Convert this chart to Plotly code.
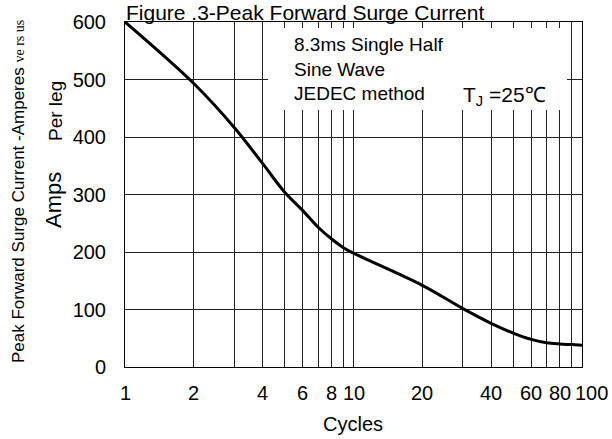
import plotly.graph_objects as go
import math

# Data
cycles = [1, 2, 3, 4, 5, 6, 7, 8, 9, 10, 20, 30, 40, 50, 60, 70, 80, 90, 100]
amps = [600, 493, 417, 354, 304, 272, 243, 223, 208, 198, 142, 102, 76, 59, 48, 42, 40, 39, 38]

x_grid = [1, 2, 3, 4, 5, 6, 7, 8, 9, 10, 20, 30, 40, 50, 60, 70, 80, 90, 100]
x_labels = ["1", "2", "", "4", "", "6", "", "8", "", "10", "20", "", "40", "", "60", "", "80", "", "100"]
y_ticks = [0, 100, 200, 300, 400, 500, 600]

title_text = "Figure .3-Peak Forward Surge Current"
y_title_main = "Peak Forward Surge Current -Amperes"
y_title_serif = "ve rs us"
note_lines = ["8.3ms Single Half", "Sine Wave", "JEDEC method"]

W, H = 612, 439
L, R, T, B = 125, 30, 22, 72
PW, PH = W - L - R, H - T - B

def px_x(p):
    return (p - L) / PW

def px_y(p):
    return (H - B - p) / PH

SANS = "Liberation Sans, Arial, sans-serif"

fig = go.Figure()
fig.add_trace(go.Scatter(
    x=cycles, y=amps, mode="lines",
    line=dict(color="black", width=3, shape="spline", smoothing=1.0),
    showlegend=False, hoverinfo="skip",
))

fig.update_layout(
    width=W, height=H,
    margin=dict(l=L, r=R, t=T, b=B),
    paper_bgcolor="white", plot_bgcolor="white",
    font=dict(family=SANS, color="black", size=20),
    xaxis=dict(
        type="log", range=[0, 2],
        tickmode="array", tickvals=x_grid, showticklabels=False,
        showgrid=True, gridcolor="#222", gridwidth=1,
        showline=True, linecolor="black", linewidth=1, mirror=True,
        ticks="", zeroline=False,
    ),
    yaxis=dict(
        range=[0, 600], tickmode="array", tickvals=y_ticks,
        showgrid=True, gridcolor="#222", gridwidth=1,
        showline=True, linecolor="black", linewidth=1, mirror=True,
        ticks="", ticklabelstandoff=14,
        tickfont=dict(size=20, family=SANS),
        zeroline=False,
    ),
)

# white box behind the note text
fig.add_shape(type="rect", xref="paper", yref="paper",
              x0=px_x(268), x1=px_x(567), y0=px_y(110), y1=px_y(28),
              fillcolor="white", line=dict(width=0), layer="above")

# x tick labels placed on the log axis
for v, lab in zip(x_grid, x_labels):
    if not lab:
        continue
    fig.add_annotation(xref="x", yref="paper", x=math.log10(v), y=px_y(393),
                       text=lab, showarrow=False, xanchor="center", yanchor="middle",
                       xshift=(9 if v == x_grid[-1] else 0),
                       font=dict(size=20, family=SANS))

annotations = [
    dict(text=title_text, x=px_x(305), y=px_y(12), xanchor="center", yanchor="middle",
         font=dict(size=21, family=SANS)),
    dict(text="<br>".join(note_lines), x=px_x(292), y=px_y(69), xanchor="left", yanchor="middle",
         align="left", font=dict(size=19, family=SANS)),
    dict(text="T<sub>J</sub> =25\u2103", x=px_x(504), y=px_y(96), xanchor="center", yanchor="middle",
         font=dict(size=21, family=SANS)),
    dict(text=y_title_main + " <span style='font-family:Liberation Serif, serif;font-size:14px'>" + y_title_serif + "</span>",
         x=px_x(18), y=px_y(192), xanchor="center", yanchor="middle", textangle=-90,
         font=dict(size=17, family=SANS)),
    dict(text="Per leg", x=px_x(55), y=px_y(111), xanchor="center", yanchor="middle", textangle=-90,
         font=dict(size=19, family=SANS)),
    dict(text="Amps", x=px_x(53), y=px_y(200), xanchor="center", yanchor="middle", textangle=-90,
         font=dict(size=22, family=SANS)),
    dict(text="Cycles", x=px_x(353), y=px_y(424), xanchor="center", yanchor="middle",
         font=dict(size=20, family=SANS)),
]
for a in annotations:
    fig.add_annotation(xref="paper", yref="paper", showarrow=False, **a)

fig.write_html("out.html", config={"displayModeBar": False},
               post_script="document.body.style.margin='0';")
